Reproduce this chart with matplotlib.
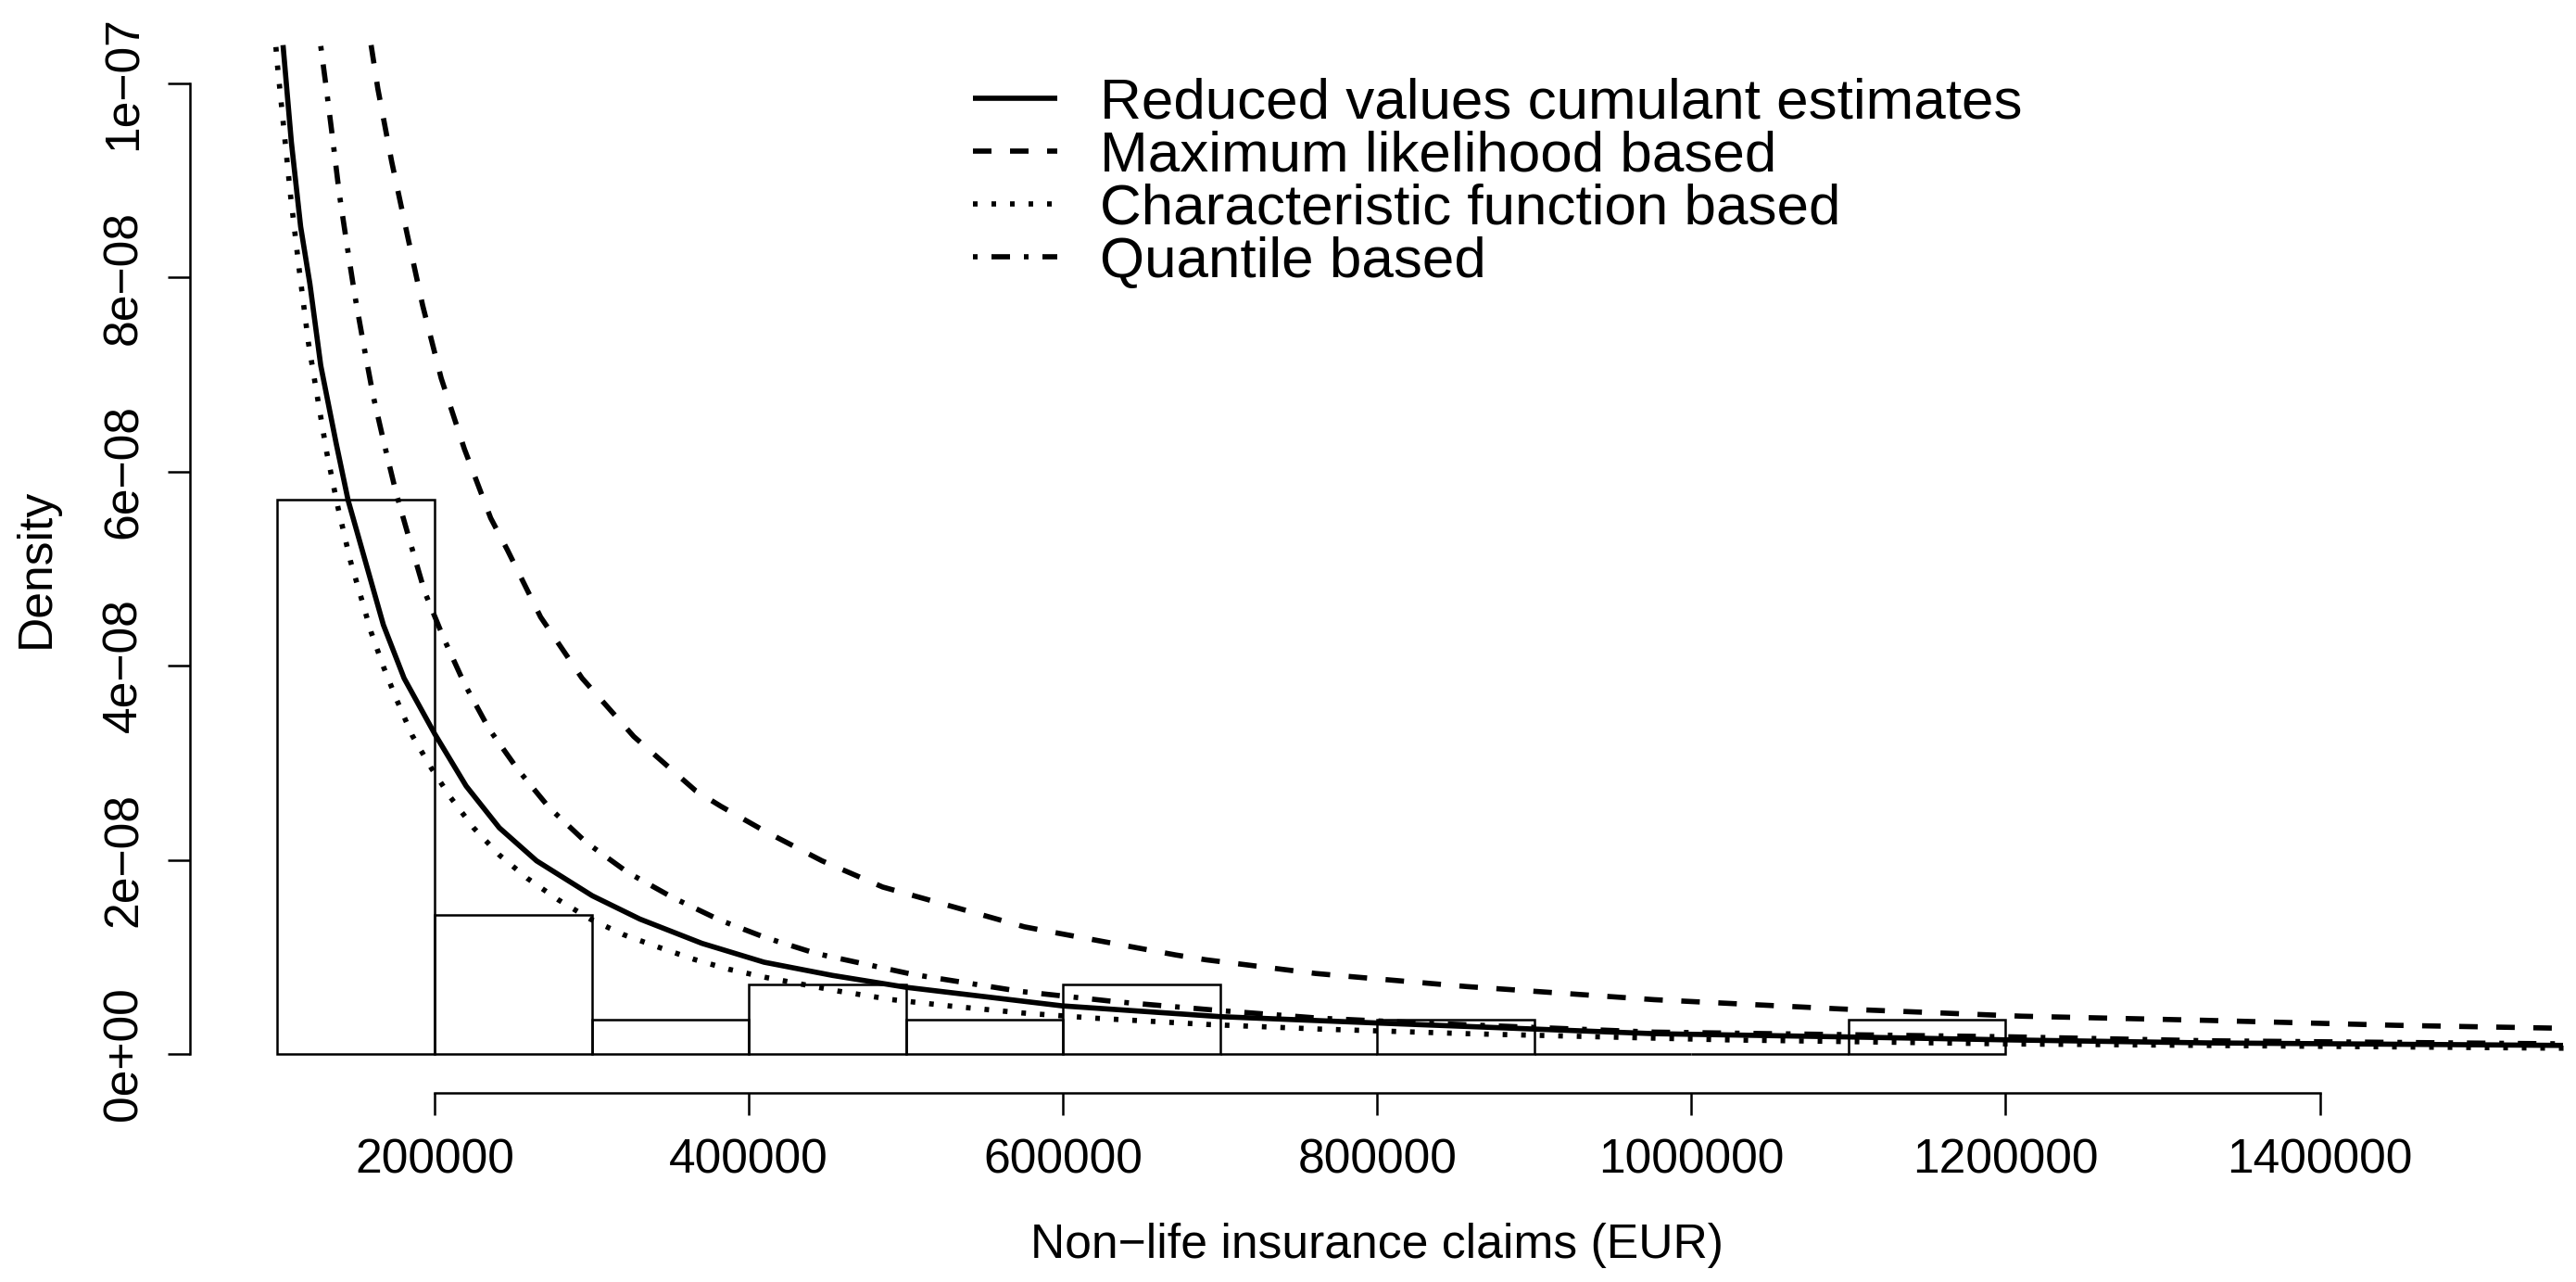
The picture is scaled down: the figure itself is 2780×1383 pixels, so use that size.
import numpy as np
import matplotlib.pyplot as plt

###
### Data (densities in units of 1e-8)
###
bin_left = [100000, 200000, 300000, 400000, 500000, 600000,
            700000, 800000, 900000, 1000000, 1100000]
bin_dens = [5.71, 1.43, 0.357, 0.714, 0.357, 0.714,
            0.0, 0.357, 0.0, 0.0, 0.357]
bin_width = 100000

# Reduced values cumulant estimates (solid)
x_rv = [103540, 108850, 114750, 120650, 127550, 137350, 145000, 156900,
        167400, 180600, 200350, 220100, 241200, 264900, 300400, 330700,
        370200, 409700, 453200, 500350, 599700, 700500, 799700, 976000,
        1100400, 1200800, 1328000, 1554800]
y_rv = [10.39, 9.39, 8.52, 7.93, 7.09, 6.29, 5.70, 5.02,
        4.42, 3.87, 3.29, 2.76, 2.33, 1.99, 1.63, 1.39,
        1.14, 0.946, 0.810, 0.687, 0.496, 0.385, 0.320, 0.210,
        0.176, 0.146, 0.115, 0.089]

# Maximum likelihood based (dashed)
x_ml = [159600, 163900, 172700, 182600, 192400, 204200, 219000, 235700,
        246400, 267500, 293900, 326800, 366300, 382400, 409700, 446600,
        485250, 514000, 575500, 596800, 671900, 690900, 760700, 785000,
        857000, 976300, 1094300, 1210000, 1328000, 1448400, 1556000]
y_ml = [10.39, 9.94, 9.19, 8.44, 7.71, 6.96, 6.23, 5.52,
        5.19, 4.50, 3.87, 3.27, 2.71, 2.55, 2.30, 1.99,
        1.72, 1.59, 1.31, 1.245, 1.02, 0.971, 0.83, 0.795,
        0.695, 0.56, 0.465, 0.39, 0.347, 0.296, 0.265]

# Characteristic function based (dotted)
x_cf = [99000, 100000, 103540, 108260, 113750, 119650, 125370, 131300,
        138350, 146400, 152900, 159500, 167400, 176100, 185800, 197700,
        210300, 224800, 241200, 259000, 278600, 299100, 320200, 342600,
        365000, 387300, 410500, 433500, 456700, 491300, 527400, 574100,
        620800, 691500, 762200, 857000, 1022600, 1198500, 1556000]
y_cf = [10.37, 10.18, 9.61, 8.85, 8.09, 7.33, 6.77, 6.20,
        5.64, 5.08, 4.72, 4.35, 3.99, 3.64, 3.28, 2.95,
        2.64, 2.33, 2.05, 1.81, 1.59, 1.39, 1.23, 1.10,
        0.976, 0.873, 0.79, 0.72, 0.649, 0.56, 0.496, 0.423,
        0.369, 0.305, 0.258, 0.21, 0.146, 0.105, 0.06]

# Quantile based (dot-dash)
x_qb = [127550, 131450, 135400, 139350, 144250, 149150, 155000, 160900,
        167850, 175500, 184500, 193700, 205600, 218800, 234600, 253000,
        272800, 296500, 323000, 351800, 381500, 410500, 443000, 504500,
        573000, 634300, 699000, 763700, 828400, 976000, 1200800, 1328000,
        1556000]
y_qb = [10.38, 9.90, 9.39, 8.86, 8.33, 7.82, 7.29, 6.78,
        6.29, 5.78, 5.27, 4.76, 4.29, 3.82, 3.35, 2.93,
        2.54, 2.18, 1.87, 1.61, 1.38, 1.20, 1.035, 0.82,
        0.645, 0.538, 0.449, 0.369, 0.32, 0.226, 0.178, 0.137,
        0.105]

labels = ["Reduced values cumulant estimates",
          "Maximum likelihood based",
          "Characteristic function based",
          "Quantile based"]

x_ticks = [200000, 400000, 600000, 800000, 1000000, 1200000, 1400000]
x_ticklabels = ["200000", "400000", "600000", "800000",
                "1000000", "1200000", "1400000"]
y_ticks = [0.0, 2e-8, 4e-8, 6e-8, 8e-8, 1e-7]
y_ticklabels = ["0e+00", "2e\u221208", "4e\u221208", "6e\u221208",
                "8e\u221208", "1e\u221207"]

###
### Figure
###
plt.rcParams['font.family'] = ['Liberation Sans', 'DejaVu Sans']
W, H, dpi = 2780, 1383, 300
fig = plt.figure(figsize=(W/dpi, H/dpi), dpi=dpi)

# plot region in pixels (R style, 4% padding on both axes)
left, right, top, bottom = 204.5, 2768.0, 47.6, 1179.0
ax = fig.add_axes([left/W, 1-bottom/H, (right-left)/W, (bottom-top)/H])
ax.set_xlim(44000, 1556000)
ax.set_ylim(-0.4e-8, 10.4e-8)

lw_thin = 0.6
lw_curve = 1.35
k = 1.2/lw_curve   # keep the dash period of the reference

# histogram
ax.bar(bin_left, np.array(bin_dens)*1e-8, width=bin_width, align='edge',
       fill=False, edgecolor='black', linewidth=lw_thin)

# fitted densities
styles = [(0, ()), (0, (4*k, 4*k)), (0, (1*k, 3*k)),
          (0, (1*k, 3*k, 4*k, 3*k))]
series = [(x_rv, y_rv), (x_ml, y_ml), (x_cf, y_cf), (x_qb, y_qb)]
for (xs, ys), ls, lab in zip(series, styles, labels):
    ax.plot(xs, np.array(ys)*1e-8, color='black', lw=lw_curve,
            linestyle=ls, dash_capstyle='butt', solid_capstyle='butt',
            label=lab)

# axes, R style
for s in ['top', 'right']:
    ax.spines[s].set_visible(False)
ax.spines['left'].set_bounds(0, 1e-7)
ax.spines['bottom'].set_bounds(200000, 1400000)
for s in ['left', 'bottom']:
    ax.spines[s].set_linewidth(lw_thin)

fs = 12.4
ax.set_xticks(x_ticks, labels=x_ticklabels)
ax.set_yticks(y_ticks, labels=y_ticklabels)
ax.tick_params(axis='both', direction='out', length=5.76, width=lw_thin,
               labelsize=fs, color='black')
ax.tick_params(axis='x', pad=5.76)
ax.tick_params(axis='y', pad=5.3, labelrotation=90)
for t in ax.get_yticklabels():
    t.set_va('center')

fig.text(52.7/W, 1-613/H, "Density", rotation=90, rotation_mode='anchor',
         ha='center', va='baseline', fontsize=fs)
fig.text(1486/W, 1-1357/H, "Non\u2212life insurance claims (EUR)",
         ha='center', va='baseline', fontsize=fs)

ax.legend(loc='upper left', bbox_to_anchor=(1050/W, 1-83.9/H),
          bbox_transform=fig.transFigure, frameon=False, fontsize=14.9,
          borderpad=0, borderaxespad=0, handlelength=1.47,
          handletextpad=0.735, labelspacing=0.0)

fig.savefig("out.png", dpi=dpi)
